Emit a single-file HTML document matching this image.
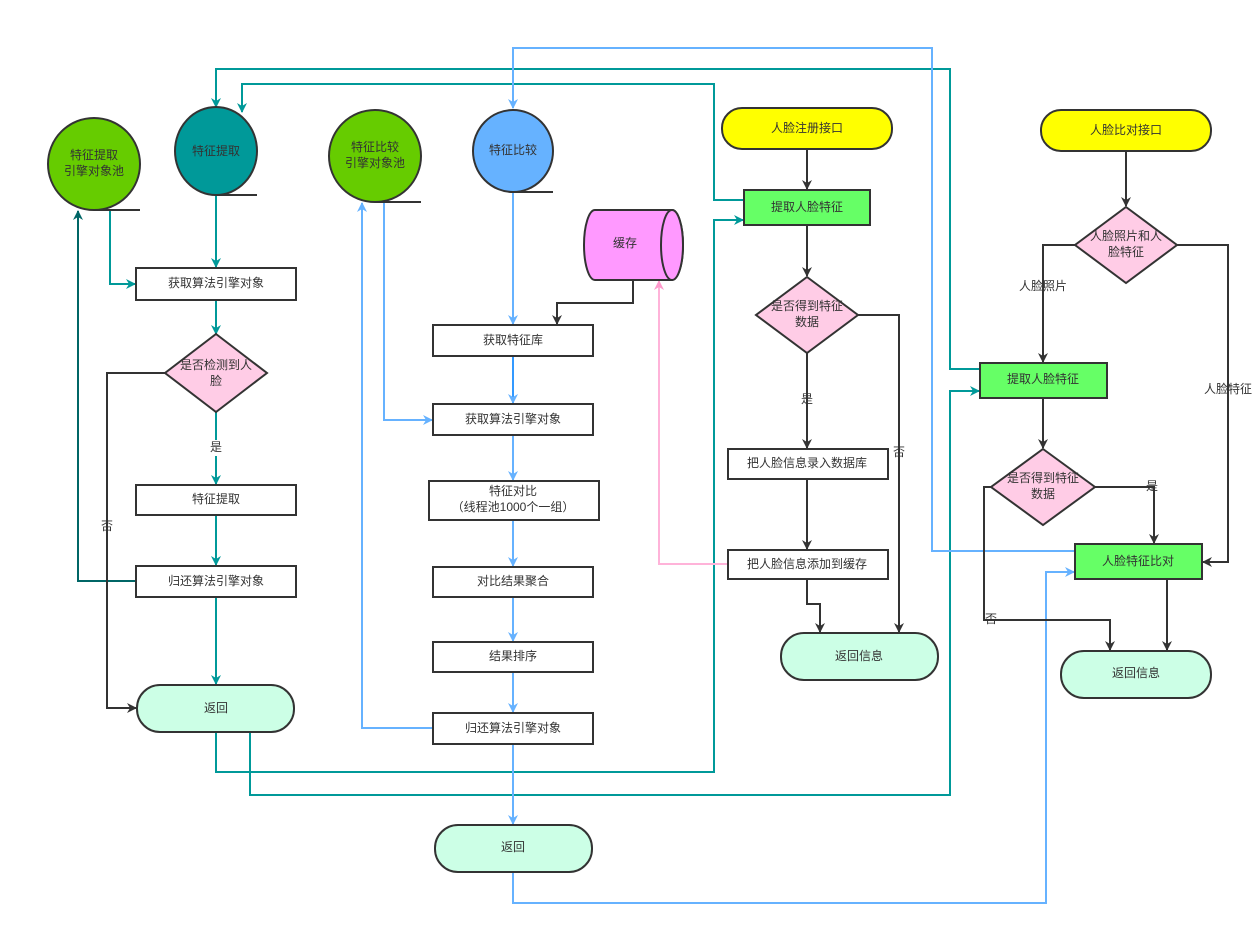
<!DOCTYPE html>
<html><head><meta charset="utf-8"><style>
body{margin:0;background:#fff}
svg text{font-family:"Liberation Sans","Noto Sans CJK SC",sans-serif;font-size:12px;fill:#333;text-anchor:middle;dominant-baseline:middle}
</style></head><body>
<svg width="1259" height="934" viewBox="0 0 1259 934" xmlns="http://www.w3.org/2000/svg">
<defs>
<marker id="ab" markerWidth="10" markerHeight="10" refX="9" refY="5" orient="auto" markerUnits="userSpaceOnUse"><path d="M0,0 L10,5 L0,10 L3,5z" fill="#333"/></marker>
<marker id="at" markerWidth="10" markerHeight="10" refX="9" refY="5" orient="auto" markerUnits="userSpaceOnUse"><path d="M0,0 L10,5 L0,10 L3,5z" fill="#009999"/></marker>
<marker id="ad" markerWidth="10" markerHeight="10" refX="9" refY="5" orient="auto" markerUnits="userSpaceOnUse"><path d="M0,0 L10,5 L0,10 L3,5z" fill="#006666"/></marker>
<marker id="al" markerWidth="10" markerHeight="10" refX="9" refY="5" orient="auto" markerUnits="userSpaceOnUse"><path d="M0,0 L10,5 L0,10 L3,5z" fill="#66b2ff"/></marker>
<marker id="ap" markerWidth="10" markerHeight="10" refX="9" refY="5" orient="auto" markerUnits="userSpaceOnUse"><path d="M0,0 L10,5 L0,10 L3,5z" fill="#ff99cc"/></marker>
</defs>
<g fill="none" stroke-width="2">
<!-- teal -->
<g stroke="#009999">
<path d="M216,196 V267" marker-end="url(#at)"/>
<path d="M110,210 V284 H135" marker-end="url(#at)"/>
<path d="M216,300 V334" marker-end="url(#at)"/>
<path d="M216,412 V440 M216,456 V484" marker-end="url(#at)"/>
<path d="M216,515 V565" marker-end="url(#at)"/>
<path d="M216,597 V684" marker-end="url(#at)"/>
<path d="M216,732 V772 H714 V220 H743" marker-end="url(#at)"/>
<path d="M250,732 V795 H950 V391 H979" marker-end="url(#at)"/>
<path d="M744,200 H714 V84 H242 V112" marker-end="url(#at)"/>
<path d="M980,369 H950 V69 H216 V107" marker-end="url(#at)"/>
</g>
<path d="M136,581 H78 V211" stroke="#006666" marker-end="url(#ad)"/>
<!-- blue -->
<g stroke="#66b2ff">
<path d="M513,193 V324" marker-end="url(#al)"/>
<path d="M1075,551 H932 V48 H513 V108" marker-end="url(#al)"/>
<path d="M384,202 V420 H432" marker-end="url(#al)"/>
<path d="M513,356 V403" stroke="#3399ff" marker-end="url(#al)"/>
<path d="M513,435 V480" marker-end="url(#al)"/>
<path d="M513,520 V566" marker-end="url(#al)"/>
<path d="M513,597 V641" marker-end="url(#al)"/>
<path d="M513,672 V712" marker-end="url(#al)"/>
<path d="M433,728 H362 V203" marker-end="url(#al)"/>
<path d="M513,744 V824" marker-end="url(#al)"/>
<path d="M513,872 V903 H1046 V572 H1074" marker-end="url(#al)"/>
</g>
<path d="M728,564 H659 V281" stroke="#ffb3d9" marker-end="url(#ap)"/>
<!-- black -->
<g stroke="#333">
<path d="M165,373 H107 V708 H136" marker-end="url(#ab)"/>
<path d="M633,280 V303 H557 V324" marker-end="url(#ab)"/>
<path d="M807,149 V189" marker-end="url(#ab)"/>
<path d="M807,225 V276" marker-end="url(#ab)"/>
<path d="M807,353 V448" marker-end="url(#ab)"/>
<path d="M807,479 V549" marker-end="url(#ab)"/>
<path d="M807,579 V604 H820 V632" marker-end="url(#ab)"/>
<path d="M858,315 H899 V632" marker-end="url(#ab)"/>
<path d="M1126,151 V206" marker-end="url(#ab)"/>
<path d="M1075,245 H1043 V362" marker-end="url(#ab)"/>
<path d="M1177,245 H1228 V562 H1203" marker-end="url(#ab)"/>
<path d="M1043,398 V448" marker-end="url(#ab)"/>
<path d="M1095,487 H1154 V543" marker-end="url(#ab)"/>
<path d="M991,487 H984 V620 H1110 V650" marker-end="url(#ab)"/>
<path d="M1167,579 V650" marker-end="url(#ab)"/>
</g>
</g>
<!-- shapes -->
<g stroke="#333" stroke-width="2">
<ellipse cx="94" cy="164" rx="46" ry="46" fill="#66cc00"/><path d="M94,210 H140" fill="none"/>
<ellipse cx="216" cy="151" rx="41" ry="44" fill="#009999"/><path d="M216,195 H257" fill="none"/>
<ellipse cx="375" cy="156" rx="46" ry="46" fill="#66cc00"/><path d="M375,202 H421" fill="none"/>
<ellipse cx="513" cy="151" rx="40" ry="41" fill="#66b2ff"/><path d="M513,192 H553" fill="none"/>
<path d="M595,210 H672 A11,35 0 0 1 672,280 H595 A11,35 0 0 1 595,210z" fill="#ff99ff"/>
<ellipse cx="672" cy="245" rx="11" ry="35" fill="#ff99ff"/>
<g fill="#fff">
<rect x="136" y="268" width="160" height="32"/>
<rect x="136" y="485" width="160" height="30"/>
<rect x="136" y="566" width="160" height="31"/>
<rect x="433" y="325" width="160" height="31"/>
<rect x="433" y="404" width="160" height="31"/>
<rect x="429" y="481" width="170" height="39"/>
<rect x="433" y="567" width="160" height="30"/>
<rect x="433" y="642" width="160" height="30"/>
<rect x="433" y="713" width="160" height="31"/>
<rect x="728" y="449" width="160" height="30"/>
<rect x="728" y="550" width="160" height="29"/>
</g>
<g fill="#ffcce6">
<path d="M216,334 L267,373 L216,412 L165,373z"/>
<path d="M807,277 L858,315 L807,353 L756,315z"/>
<path d="M1126,207 L1177,245 L1126,283 L1075,245z"/>
<path d="M1043,449 L1095,487 L1043,525 L991,487z"/>
</g>
<g fill="#ccffe6">
<rect x="137" y="685" width="157" height="47" rx="23"/>
<rect x="435" y="825" width="157" height="47" rx="23"/>
<rect x="781" y="633" width="157" height="47" rx="23"/>
<rect x="1061" y="651" width="150" height="47" rx="23"/>
</g>
<g fill="#ffff00">
<rect x="722" y="108" width="170" height="41" rx="20"/>
<rect x="1041" y="110" width="170" height="41" rx="20"/>
</g>
<g fill="#66ff66">
<rect x="744" y="190" width="126" height="35"/>
<rect x="980" y="363" width="127" height="35"/>
<rect x="1075" y="544" width="127" height="35"/>
</g>
</g>
<!-- text -->
<text x="94" y="156">特征提取</text><text x="94" y="172">引擎对象池</text>
<text x="216" y="152">特征提取</text>
<text x="375" y="148">特征比较</text><text x="375" y="164">引擎对象池</text>
<text x="513" y="151">特征比较</text>
<text x="625" y="244">缓存</text>
<text x="216" y="284">获取算法引擎对象</text>
<text x="216" y="366">是否检测到人</text><text x="216" y="382">脸</text>
<text x="216" y="448" style="fill:#333">是</text>
<text x="216" y="500">特征提取</text>
<text x="216" y="582">归还算法引擎对象</text>
<text x="107" y="527">否</text>
<text x="216" y="709">返回</text>
<text x="513" y="341">获取特征库</text>
<text x="513" y="420">获取算法引擎对象</text>
<text x="513" y="492">特征对比</text><text x="513" y="508">（线程池1000个一组）</text>
<text x="513" y="582">对比结果聚合</text>
<text x="513" y="657">结果排序</text>
<text x="513" y="729">归还算法引擎对象</text>
<text x="513" y="848">返回</text>
<text x="807" y="129">人脸注册接口</text>
<text x="807" y="208">提取人脸特征</text>
<text x="807" y="307">是否得到特征</text><text x="807" y="323">数据</text>
<text x="807" y="400">是</text>
<text x="899" y="453">否</text>
<text x="807" y="464">把人脸信息录入数据库</text>
<text x="807" y="565">把人脸信息添加到缓存</text>
<text x="859" y="657">返回信息</text>
<text x="1126" y="131">人脸比对接口</text>
<text x="1126" y="237">人脸照片和人</text><text x="1126" y="253">脸特征</text>
<text x="1043" y="287">人脸照片</text>
<text x="1228" y="390">人脸特征</text>
<text x="1043" y="380">提取人脸特征</text>
<text x="1043" y="479">是否得到特征</text><text x="1043" y="495">数据</text>
<text x="1152" y="487">是</text>
<text x="991" y="620">否</text>
<text x="1138" y="562">人脸特征比对</text>
<text x="1136" y="674">返回信息</text>
</svg>
</body></html>
